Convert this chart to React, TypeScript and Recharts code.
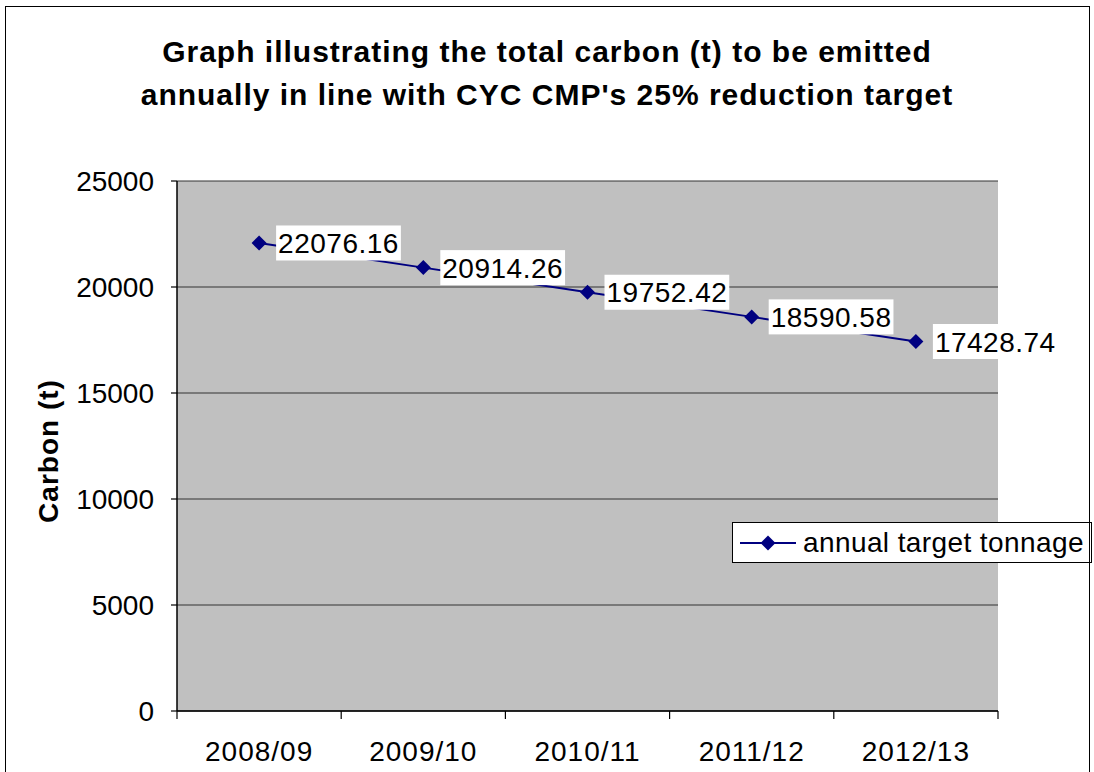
import React from 'react'
import {
  LineChart, Line, XAxis, YAxis, CartesianGrid, LabelList,
} from 'recharts'

const years = ['2008/09', '2009/10', '2010/11', '2011/12', '2012/13']
const tonnage = [22076.16, 20914.26, 19752.42, 18590.58, 17428.74]
const yTicks = [0, 5000, 10000, 15000, 20000, 25000]
const seriesName = 'annual target tonnage'

const NAVY = '#000080'
const FONT = '"Liberation Sans", Arial, Helvetica, sans-serif'
const FS = 28

// x positions sit in the middle of each category slot, like Excel
const data = years.map((y, i) => ({ x: i + 0.5, year: y, value: tonnage[i] }))
const xTicks = [...years.flatMap((_, i) => [i, i + 0.5]), years.length]

function textWidth(s: string, size: number, spacing: number) {
  let w = 0
  for (const ch of s) w += ch === '.' ? 0.278 : 0.556
  return w * size + spacing * s.length
}

function Diamond(props: any) {
  const { cx, cy } = props
  if (cx == null || cy == null) return <g />
  const r = 7.5
  return (
    <polygon
      points={`${cx},${cy - r} ${cx + r},${cy} ${cx},${cy + r} ${cx - r},${cy}`}
      fill={NAVY}
    />
  )
}

function XTick(props: any) {
  const { x, y, payload } = props
  const v = payload.value as number
  if (Number.isInteger(v)) {
    return <line x1={x} y1={y} x2={x} y2={y + 8} stroke="#000" strokeWidth={1.2} />
  }
  return (
    <text x={x} y={y + 50} textAnchor="middle" fontSize={FS} letterSpacing={1} fontFamily={FONT} fill="#000">
      {years[Math.floor(v)]}
    </text>
  )
}

function ValueLabel(props: any) {
  const { x, y, value } = props
  const text = Number(value).toFixed(2)
  const w = textWidth(text, FS, 0.5)
  return (
    <g>
      <rect x={x + 17} y={y - 17.5} width={w + 4} height={35} fill="#fff" />
      <text x={x + 19} y={y} dy="0.36em" fontSize={FS} letterSpacing={0.5} fontFamily={FONT} fill="#000">
        {text}
      </text>
    </g>
  )
}

function YTitle(p: any) {
  const vb = p.viewBox || {}
  const cy = (vb.y ?? 181) + (vb.height ?? 530) / 2 + 5
  return (
    <text
      x={48}
      y={cy}
      transform={`rotate(-90, 48, ${cy})`}
      textAnchor="middle"
      dy="0.36em"
      fontSize={FS}
      letterSpacing={1}
      fontWeight="bold"
      fontFamily={FONT}
      fill="#000"
    >
      Carbon (t)
    </text>
  )
}

export default function App() {
  return (
    <div style={{ position: 'fixed', left: 0, top: 0, width: 1094, height: 772, background: '#fff', overflow: 'hidden' }}>
      <div
        style={{
          position: 'absolute', left: 0, top: 30, width: 1094, textAlign: 'center',
          fontFamily: FONT, fontWeight: 'bold', fontSize: 30, letterSpacing: 1,
          lineHeight: '43px', color: '#000',
        }}
      >
        Graph illustrating the total carbon (t) to be emitted<br />
        annually in line with CYC CMP's 25% reduction target
      </div>
      <LineChart
        width={1094}
        height={772}
        data={data}
        margin={{ top: 181, right: 96, left: 77, bottom: 0 }}
        style={{ position: 'absolute', left: 0, top: 0 }}
      >
        <CartesianGrid yAxisId="left" vertical={false} fill="#c0c0c0" stroke="#333" strokeWidth={1} />
        <XAxis
          dataKey="x"
          type="number"
          domain={[0, years.length]}
          ticks={xTicks}
          interval={0}
          height={61}
          tickSize={0}
          tickMargin={0}
          tickLine={false}
          axisLine={{ stroke: '#000', strokeWidth: 1.5 }}
          tick={<XTick />}
        />
        <XAxis
          xAxisId="top"
          orientation="top"
          dataKey="x"
          type="number"
          domain={[0, years.length]}
          height={0}
          tick={false}
          tickLine={false}
          axisLine={{ stroke: '#808080', strokeWidth: 2 }}
        />
        <YAxis
          yAxisId="left"
          domain={[0, 25000]}
          ticks={yTicks}
          interval={0}
          width={100}
          tickSize={6}
          tickMargin={17}
          tickLine={{ stroke: '#000', strokeWidth: 1.2 }}
          axisLine={{ stroke: '#000', strokeWidth: 1.5 }}
          tick={{ fill: '#000', fontSize: FS, fontFamily: FONT }}
          label={{ content: (p: any) => <YTitle {...p} /> }}
        />
        <YAxis
          yAxisId="right"
          orientation="right"
          domain={[0, 25000]}
          width={0}
          tick={false}
          tickLine={false}
          axisLine={{ stroke: '#808080', strokeWidth: 2 }}
        />
        <Line
          yAxisId="left"
          dataKey="value"
          name={seriesName}
          stroke={NAVY}
          strokeWidth={2}
          dot={<Diamond />}
          activeDot={false}
          isAnimationActive={false}
        >
          <LabelList dataKey="value" content={<ValueLabel />} />
        </Line>
      </LineChart>
      <div
        style={{
          position: 'absolute', left: 732, top: 522, display: 'flex', alignItems: 'center',
          width: 358, height: 39, background: '#fff', border: '1px solid #000',
          fontFamily: FONT, fontSize: FS, letterSpacing: 0.4, color: '#000', whiteSpace: 'nowrap',
        }}
      >
        <svg width={56} height={20} style={{ marginLeft: 7, marginRight: 7 }}>
          <line x1={0} y1={10} x2={56} y2={10} stroke={NAVY} strokeWidth={2} />
          <polygon points="28,2.5 35.5,10 28,17.5 20.5,10" fill={NAVY} />
        </svg>
        <span>{seriesName}</span>
      </div>
      <div
        style={{
          position: 'absolute', left: 5, top: 6, width: 1083, height: 800,
          border: '1px solid #000', pointerEvents: 'none',
        }}
      />
    </div>
  )
}
